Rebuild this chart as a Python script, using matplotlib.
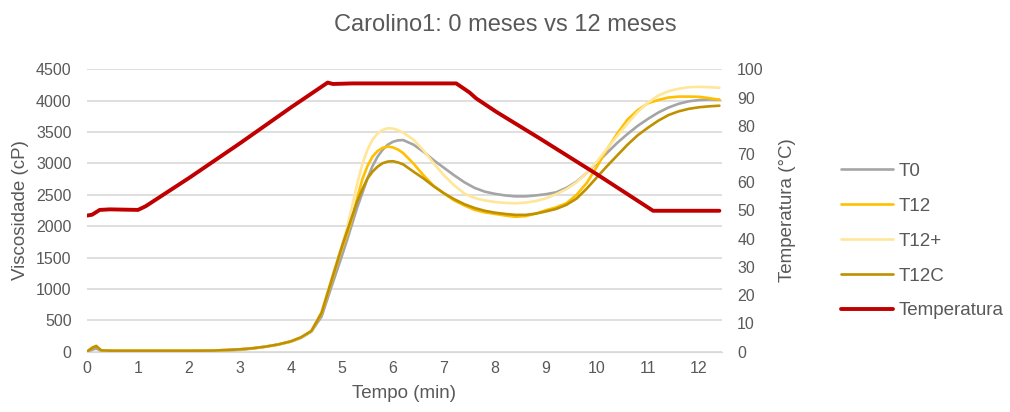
import matplotlib
matplotlib.use("Agg")
import matplotlib.pyplot as plt

plt.rcParams['font.family'] = ['Liberation Sans', 'DejaVu Sans']

# viscosity (cP) vs time (min)
tempo = [0, 0.1, 0.18, 0.28, 0.5, 1.0, 1.5, 2.0, 2.5, 3.0, 3.25, 3.5, 3.75, 4.0,
         4.2, 4.4, 4.6, 4.8, 5.0, 5.1, 5.2, 5.3, 5.4, 5.5, 5.6, 5.7, 5.8, 5.9, 6.0,
         6.1, 6.2, 6.4, 6.6, 6.8, 7.0, 7.2, 7.4, 7.6, 7.8, 8.0, 8.2, 8.4, 8.6, 8.8,
         9.0, 9.2, 9.4, 9.6, 9.8, 10.0, 10.2, 10.4, 10.6, 10.8, 11.0, 11.2, 11.4,
         11.6, 11.8, 12.0, 12.2, 12.4]

t0 = [0, 30, 50, 15, 12, 10, 10, 10, 12, 30, 50, 80, 115, 160,
      220, 320, 560, 1050, 1530, 1780, 2040, 2300, 2530, 2760, 2960, 3110, 3220, 3300, 3345,
      3368, 3372, 3300, 3185, 3050, 2930, 2810, 2700, 2610, 2550, 2515, 2490, 2475, 2475, 2490,
      2510, 2540, 2610, 2710, 2850, 3010, 3170, 3330, 3470, 3600, 3710, 3810, 3890,
      3950, 3990, 4010, 4020, 4015]

t12 = [0, 60, 90, 20, 15, 15, 15, 15, 18, 38, 55, 80, 115, 165,
       230, 330, 610, 1130, 1650, 1870, 2130, 2450, 2750, 2960, 3110, 3200, 3250, 3268, 3255,
       3220, 3165, 3000, 2810, 2640, 2520, 2410, 2330, 2260, 2220, 2195, 2170, 2150, 2160, 2200,
       2255, 2300, 2365, 2500, 2690, 2950, 3230, 3480, 3700, 3850, 3960, 4010, 4050,
       4065, 4065, 4062, 4040, 4015]

t12_plus = [0, 70, 95, 20, 15, 15, 15, 15, 18, 38, 55, 80, 115, 160,
            225, 330, 640, 1180, 1700, 1980, 2320, 2680, 2990, 3220, 3380, 3480, 3535, 3560, 3555,
            3530, 3490, 3380, 3205, 3000, 2810, 2650, 2520, 2450, 2410, 2385, 2370, 2365, 2375, 2400,
            2444, 2510, 2590, 2700, 2850, 3030, 3240, 3440, 3640, 3820, 3970, 4080, 4150,
            4190, 4215, 4220, 4215, 4205]

t12c = [0, 60, 90, 20, 15, 15, 15, 15, 18, 38, 55, 80, 115, 165,
        230, 330, 620, 1150, 1680, 1920, 2160, 2400, 2590, 2760, 2870, 2950, 3005, 3030, 3035,
        3015, 2985, 2870, 2760, 2635, 2525, 2430, 2350, 2290, 2245, 2215, 2195, 2180, 2180, 2200,
        2235, 2275, 2340, 2440, 2600, 2780, 2960, 3130, 3300, 3450, 3570, 3680, 3770,
        3830, 3870, 3895, 3910, 3920]

# temperature profile (°C)
tempo_temp = [0, 0.1, 0.25, 0.45, 1.0, 1.15, 2.0, 3.0, 4.0, 4.72, 4.82, 5.2, 7.24,
              7.5, 7.63, 8.02, 8.87, 10.0, 11.1, 12.4]
temperatura = [48.2, 48.5, 50.2, 50.4, 50.2, 51.5, 61.5, 73.8, 86.5, 95.3, 94.8, 95.0, 95.0,
               91.8, 89.7, 85.0, 75.6, 62.8, 49.9, 49.9]

series = [("T0", t0, "#A5A5A5"),
          ("T12", t12, "#FFC000"),
          ("T12+", t12_plus, "#FFE699"),
          ("T12C", t12c, "#BF9000")]

txt = "#595959"
fig = plt.figure(figsize=(10.1, 4.12), dpi=100)
ax = fig.add_axes([0.0861, 0.1464, 0.6287, 0.6854])
ax2 = ax.twinx()

handles = []
for name, vals, col in series:
    h, = ax.plot(tempo, vals, color=col, lw=1.9, label=name, solid_capstyle='round')
    handles.append(h)
h, = ax2.plot(tempo_temp, temperatura, color="#C00000", lw=2.8, label="Temperatura",
              solid_capstyle='round')
handles.append(h)

ax.set_xlim(0, 12.45)
ax.set_ylim(0, 4500)
ax2.set_ylim(0, 100)
ax.set_yticks(range(0, 4501, 500))
ax2.set_yticks(range(0, 101, 10))
ax.set_xticks(range(0, 13))
ax.grid(axis='y', color="#D9D9D9", lw=1.2)
ax.set_axisbelow(True)
for a in (ax, ax2):
    for s in a.spines.values():
        s.set_visible(False)
    a.tick_params(length=0, labelsize=11.5, colors=txt)
ax.spines['bottom'].set_visible(True)
ax.spines['bottom'].set_color("#D9D9D9")
ax.tick_params(axis='x', pad=6.5)
ax.tick_params(axis='y', pad=11)
ax2.tick_params(axis='y', pad=11)

ax.set_xlabel("Tempo (min)", fontsize=13.5, color=txt, labelpad=7)
ax.set_ylabel("Viscosidade (cP)", fontsize=13.5, color=txt, labelpad=5)
ax2.set_ylabel("Temperatura (°C)", fontsize=13.5, color=txt, labelpad=11)
fig.text(0.5, 0.94, "Carolino1: 0 meses vs 12 meses", fontsize=17, color=txt,
         ha='center', va='center')

leg = fig.legend(handles=handles, loc='center left', bbox_to_anchor=(0.816, 0.415),
                 frameon=False, fontsize=13.5, handlelength=2.75, labelspacing=0.95,
                 handletextpad=0.3)
for t in leg.get_texts():
    t.set_color(txt)

fig.savefig("out.png", dpi=100)
